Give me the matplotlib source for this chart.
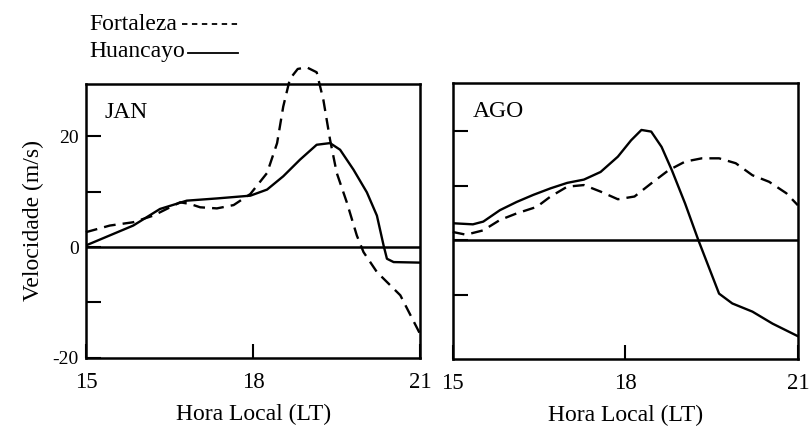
import matplotlib
matplotlib.use("Agg")
import matplotlib.pyplot as plt
from matplotlib.lines import Line2D

plt.rcParams['font.family'] = ['Liberation Serif', 'DejaVu Serif']

# JAN data
jan_hua_t = [15.0, 15.85, 16.33, 16.81, 17.35, 17.95, 18.25, 18.54, 18.84, 19.14, 19.38, 19.56, 19.8, 20.04, 20.22, 20.34, 20.4, 20.52, 21.0]
jan_hua_v = [0.3, 3.9, 6.9, 8.4, 8.8, 9.3, 10.4, 12.8, 15.8, 18.5, 18.8, 17.6, 14.0, 9.9, 5.7, 0.3, -2.1, -2.7, -2.8]
jan_for_t = [15.0, 15.43, 15.85, 16.21, 16.45, 16.69, 16.87, 17.05, 17.35, 17.65, 17.95, 18.25, 18.43, 18.54, 18.66, 18.8, 18.96, 19.14, 19.26, 19.38, 19.5, 19.68, 19.86, 19.98, 20.22, 20.64, 21.0]
jan_for_v = [2.7, 3.9, 4.5, 5.7, 6.9, 8.1, 7.8, 7.2, 7.0, 7.6, 9.6, 13.4, 18.8, 25.4, 30.4, 32.2, 32.5, 31.6, 26.6, 19.4, 13.4, 8.1, 2.1, -0.9, -4.5, -8.7, -15.8]

# AGO data
ago_hua_t = [15.0, 15.35, 15.53, 15.82, 16.11, 16.4, 16.7, 16.99, 17.28, 17.57, 17.87, 18.1, 18.28, 18.45, 18.63, 18.81, 19.04, 19.27, 19.45, 19.63, 19.86, 20.21, 20.56, 21.0]
ago_hua_v = [3.1, 2.9, 3.4, 5.5, 7.0, 8.3, 9.5, 10.5, 11.1, 12.5, 15.3, 18.3, 20.2, 19.9, 17.1, 12.8, 6.7, 0.0, -4.9, -9.8, -11.6, -13.1, -15.3, -17.6]
ago_for_t = [15.0, 15.23, 15.53, 15.82, 16.11, 16.46, 16.7, 16.99, 17.28, 17.57, 17.87, 18.16, 18.45, 18.75, 19.04, 19.33, 19.63, 19.92, 20.21, 20.5, 20.8, 21.0]
ago_for_v = [1.5, 1.0, 1.8, 3.7, 4.9, 6.1, 8.0, 9.8, 10.1, 8.9, 7.5, 8.0, 10.4, 12.8, 14.4, 15.0, 15.0, 14.1, 11.9, 10.7, 8.6, 6.4]

x_ticks = [15, 18, 21]
x_labels = ['15', '18', '21']

fig = plt.figure(figsize=(8.1, 4.28), dpi=100)
ax1 = fig.add_axes([0.106, 0.164, 0.413, 0.640])
ax2 = fig.add_axes([0.559, 0.161, 0.426, 0.645])

dash = (0, (5, 3))
lw = 1.7
for ax, ht, hv, ft, fv, name, ylim, yt in [
    (ax1, jan_hua_t, jan_hua_v, jan_for_t, jan_for_v, 'JAN', (-20, 29.5), [-20, -10, 0, 10, 20]),
    (ax2, ago_hua_t, ago_hua_v, ago_for_t, ago_for_v, 'AGO', (-21.8, 28.8), [-10, 0, 10, 20]),
]:
    ax.plot(ht, hv, color='black', lw=lw)
    ax.plot(ft, fv, color='black', lw=lw, linestyle=dash, clip_on=False)
    ax.axhline(0, color='black', lw=1.8)
    ax.set_xlim(15, 21)
    ax.set_ylim(*ylim)
    for s in ax.spines.values():
        s.set_linewidth(1.8)
    ax.text(0.057, 0.935, name, transform=ax.transAxes, fontsize=17, va='top', ha='left')
    ax.set_xticks(x_ticks)
    ax.set_xticklabels(x_labels, fontsize=16.5)
    ax.set_xlabel('Hora Local (LT)', fontsize=17, labelpad=8)
    ax.tick_params(axis='x', direction='in', length=10, width=1.5, pad=10)
    ax.tick_params(axis='y', direction='in', length=11, width=1.5, pad=5)
    ax.set_yticks(yt)

ax1.set_yticklabels(['-20', '', '0', '', '20'], fontsize=14)
ax1.set_ylabel('Velocidade (m/s)', fontsize=17, labelpad=6)
ax2.set_yticklabels([])

# legend
fig.text(89 / 810, 1 - 24 / 428, 'Fortaleza', fontsize=17, va='center', ha='left')
fig.text(89 / 810, 1 - 51 / 428, 'Huancayo', fontsize=17, va='center', ha='left')
fig.add_artist(Line2D([182 / 810, 240 / 810], [1 - 24 / 428, 1 - 24 / 428], color='black', lw=1.3, linestyle=(0, (3, 2.5))))
fig.add_artist(Line2D([188 / 810, 238 / 810], [1 - 53 / 428, 1 - 53 / 428], color='black', lw=1.3))

fig.savefig('out.png', dpi=100)
